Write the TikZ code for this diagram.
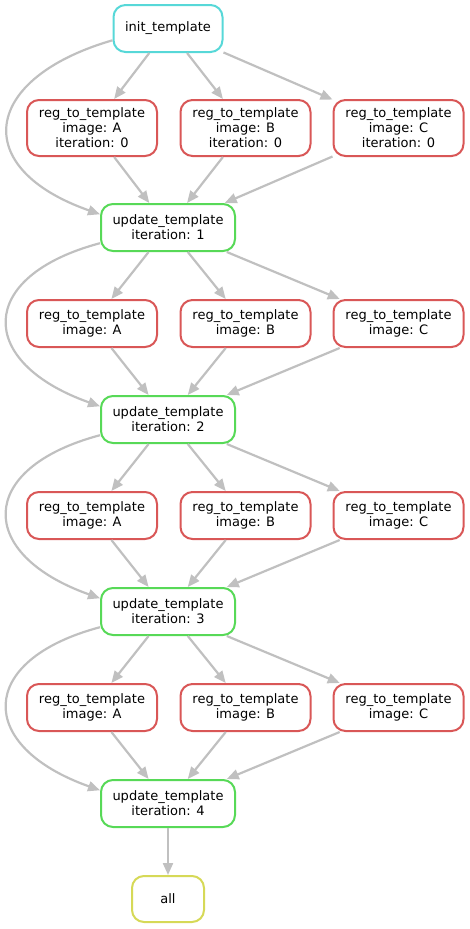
\documentclass[tikz,border=0pt]{standalone}
\usepackage{fontspec}
\setmainfont{DejaVu Sans}
\usetikzlibrary{arrows.meta}
\definecolor{cyanb}{RGB}{87,216,216}
\definecolor{redb}{RGB}{217,87,87}
\definecolor{greenb}{RGB}{87,217,87}
\definecolor{yellowb}{RGB}{214,217,87}
\definecolor{edgegray}{RGB}{192,192,192}
\begin{document}
\begin{tikzpicture}[x=1pt,y=-1pt,
  box/.style={draw, line width=2pt, rounded corners=12pt, fill=white, align=center,
    inner sep=0pt, font=\fontsize{13}{15}\selectfont},
  initbox/.style={box, draw=cyanb, minimum width=109pt, minimum height=47pt},
  regbox/.style={box, draw=redb, minimum width=130pt, minimum height=47pt},
  regboxthree/.style={box, draw=redb, minimum width=130pt, minimum height=56pt},
  updbox/.style={box, draw=greenb, minimum width=134pt, minimum height=47pt},
  allbox/.style={box, draw=yellowb, minimum width=72pt, minimum height=46pt},
  edge/.style={draw=edgegray, line width=2.2pt, -{Triangle[length=12pt,width=10pt]}}]
\path[use as bounding box] (0,0) rectangle (469,929);

\node[initbox] (init) at (168,28.5) {init\_template};
\node[regboxthree] (r0A) at (92,128) {reg\_to\_template\\image: A\\iteration: 0};
\node[regboxthree] (r0B) at (245.5,128) {reg\_to\_template\\image: B\\iteration: 0};
\node[regboxthree] (r0C) at (398.5,128) {reg\_to\_template\\image: C\\iteration: 0};
\node[updbox] (u1) at (168,227.5) {update\_template\\iteration: 1};

\node[regbox] (r1A) at (92,323.5) {reg\_to\_template\\image: A};
\node[regbox] (r1B) at (245.5,323.5) {reg\_to\_template\\image: B};
\node[regbox] (r1C) at (398.5,323.5) {reg\_to\_template\\image: C};
\node[updbox] (u2) at (168,419.5) {update\_template\\iteration: 2};

\node[regbox] (r2A) at (92,515.5) {reg\_to\_template\\image: A};
\node[regbox] (r2B) at (245.5,515.5) {reg\_to\_template\\image: B};
\node[regbox] (r2C) at (398.5,515.5) {reg\_to\_template\\image: C};
\node[updbox] (u3) at (168,611.5) {update\_template\\iteration: 3};

\node[regbox] (r3A) at (92,707.5) {reg\_to\_template\\image: A};
\node[regbox] (r3B) at (245.5,707.5) {reg\_to\_template\\image: B};
\node[regbox] (r3C) at (398.5,707.5) {reg\_to\_template\\image: C};
\node[updbox] (u4) at (168,803.5) {update\_template\\iteration: 4};

\node[allbox] (all) at (168,899) {all};

% init level
\draw[edge] (init) -- (r0A);
\draw[edge] (init) -- (r0B);
\draw[edge] (init) -- (r0C);
\draw[edge] (r0A) -- (u1);
\draw[edge] (r0B) -- (u1);
\draw[edge] (r0C) -- (u1);
\draw[edge] (init.192) .. controls +(-131,38) and +(-131,-46) .. (u1.169);

\foreach \a/\r/\b in {u1/r1/u2, u2/r2/u3, u3/r3/u4} {
  \draw[edge] (\a) -- (\r A);
  \draw[edge] (\a) -- (\r B);
  \draw[edge] (\a) -- (\r C);
  \draw[edge] (\r A) -- (\b);
  \draw[edge] (\r B) -- (\b);
  \draw[edge] (\r C) -- (\b);
  \draw[edge] (\a.193) .. controls +(-124,33) and +(-124,-44) .. (\b.169);
}
\draw[edge] (u4) -- (all);
\end{tikzpicture}
\end{document}
